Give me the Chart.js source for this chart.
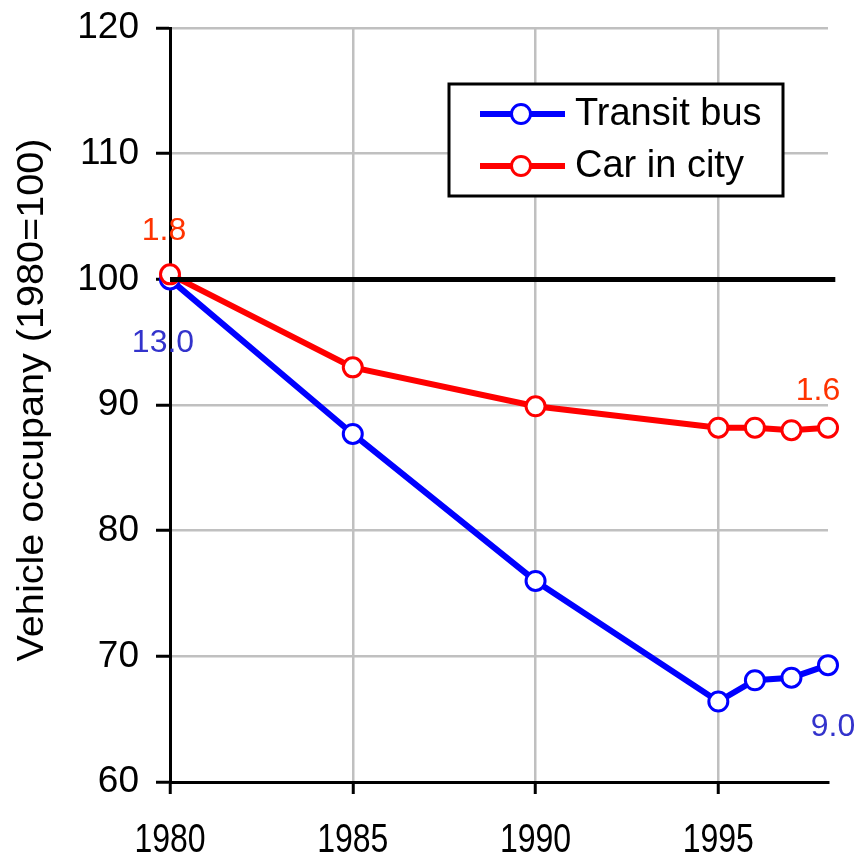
<!DOCTYPE html>
<html>
<head>
<meta charset="utf-8">
<script src="https://cdn.jsdelivr.net/npm/chart.js@4.4.0/dist/chart.umd.min.js"></script>
<style>
  html, body { margin: 0; padding: 0; background: #fff; }
  #wrap { width: 867px; height: 856px; }
</style>
</head>
<body>
<div id="wrap"><canvas id="chart" width="867" height="856"></canvas></div>
<script>
// data
const years = [1980, 1985, 1990, 1995, 1996, 1997, 1998];
const busValues = [100, 87.7, 76.0, 66.4, 68.1, 68.3, 69.3];
const carValues = [100.4, 93.0, 89.9, 88.2, 88.2, 88.0, 88.2];
const baseLine = [100, 100];
const baseYears = [1980, 1998.2];
const xTicks = [1980, 1985, 1990, 1995];
const yTicks = [60, 70, 80, 90, 100, 110, 120];
const seriesNames = ['Transit bus', 'Car in city'];
// occupancy (persons per vehicle) written at start and end of each line
const busEndLabels = ['13.0', '9.0'];
const carEndLabels = ['1.8', '1.6'];

const BLUE = '#0000ff';
const RED = '#ff0000';
const FONT = '"Liberation Sans", Arial, sans-serif';

function toPoints(xs, ys) {
  return xs.map((x, i) => ({ x: x, y: ys[i] }));
}

const extras = {
  id: 'extras',
  afterDraw(chart) {
    const ctx = chart.ctx;
    const xs = chart.scales.x;

    // x tick labels (narrow looking)
    ctx.save();
    ctx.fillStyle = '#000';
    ctx.font = '41px ' + FONT;
    ctx.textAlign = 'center';
    ctx.textBaseline = 'middle';
    xTicks.forEach(v => {
      ctx.save();
      ctx.translate(xs.getPixelForValue(v), 841);
      ctx.scale(0.78, 1);
      ctx.fillText(String(v), 0, 0);
      ctx.restore();
    });
    ctx.restore();

    // y axis title
    ctx.save();
    ctx.fillStyle = '#000';
    ctx.font = '37px ' + FONT;
    ctx.textAlign = 'center';
    ctx.textBaseline = 'middle';
    ctx.translate(33, 400);
    ctx.rotate(-Math.PI / 2);
    ctx.scale(1.07, 1);
    ctx.fillText('Vehicle occupany (1980=100)', 0, 0);
    ctx.restore();

    // end labels
    const busMeta = chart.getDatasetMeta(2).data;
    const carMeta = chart.getDatasetMeta(1).data;
    const bl = busMeta.length - 1, cl = carMeta.length - 1;
    ctx.save();
    ctx.font = '32px ' + FONT;
    ctx.textAlign = 'center';
    ctx.textBaseline = 'alphabetic';
    ctx.fillStyle = '#ff3300';
    ctx.fillText(carEndLabels[0], carMeta[0].x - 6, carMeta[0].y - 34);
    ctx.fillText(carEndLabels[1], carMeta[cl].x - 10, carMeta[cl].y - 28);
    ctx.fillStyle = '#3333cc';
    ctx.fillText(busEndLabels[0], busMeta[0].x - 7, busMeta[0].y + 73);
    ctx.fillText(busEndLabels[1], busMeta[bl].x + 5, busMeta[bl].y + 71);
    ctx.restore();

    // legend box
    ctx.save();
    ctx.fillStyle = '#fff';
    ctx.fillRect(449, 84, 334, 112);
    ctx.strokeStyle = '#000';
    ctx.lineWidth = 3;
    ctx.strokeRect(449, 84, 334, 112);
    const rows = [{ y: 114, c: BLUE }, { y: 166, c: RED }];
    rows.forEach((r, i) => {
      ctx.strokeStyle = r.c;
      ctx.lineWidth = 6;
      ctx.beginPath();
      ctx.moveTo(480, r.y);
      ctx.lineTo(565, r.y);
      ctx.stroke();
      ctx.beginPath();
      ctx.arc(521, r.y, 9.5, 0, Math.PI * 2);
      ctx.fillStyle = '#fff';
      ctx.fill();
      ctx.lineWidth = 3;
      ctx.stroke();
      ctx.fillStyle = '#000';
      ctx.font = '38px ' + FONT;
      ctx.textAlign = 'left';
      ctx.textBaseline = 'middle';
      ctx.fillText(seriesNames[i], 575, r.y + 1);
    });
    ctx.restore();
  }
};

new Chart(document.getElementById('chart'), {
  type: 'line',
  data: {
    datasets: [
      {
        label: 'base',
        data: toPoints(baseYears, baseLine),
        borderColor: '#000',
        borderWidth: 5,
        pointRadius: 0,
        clip: false
      },
      {
        label: seriesNames[1],
        data: toPoints(years, carValues),
        borderColor: RED,
        borderWidth: 6,
        pointRadius: 9.5,
        pointBorderWidth: 3,
        pointBackgroundColor: '#fff',
        pointBorderColor: RED,
        clip: false
      },
      {
        label: seriesNames[0],
        data: toPoints(years, busValues),
        borderColor: BLUE,
        borderWidth: 6,
        pointRadius: 9.5,
        pointBorderWidth: 3,
        pointBackgroundColor: '#fff',
        pointBorderColor: BLUE,
        clip: false
      }
    ]
  },
  options: {
    responsive: false,
    animation: false,
    layout: { padding: { top: 24, right: 39, left: 0, bottom: 0 } },
    plugins: {
      legend: { display: false },
      tooltip: { enabled: false }
    },
    scales: {
      x: {
        type: 'linear',
        min: 1980,
        max: 1998,
        afterBuildTicks: s => { s.ticks = xTicks.map(v => ({ value: v })); },
        afterFit: s => { s.height = 74; },
        ticks: { display: false },
        grid: { color: '#c0c0c0', lineWidth: 2.5, tickColor: '#000', tickLength: 12, tickWidth: 3 },
        border: { color: '#000', width: 3 }
      },
      y: {
        min: 60,
        max: 120,
        afterBuildTicks: s => { s.ticks = yTicks.map(v => ({ value: v })); },
        afterFit: s => { s.width = 170; },
        ticks: {
          color: '#000',
          font: { family: FONT, size: 37, lineHeight: 0.6 },
          padding: 17
        },
        grid: { color: '#c0c0c0', lineWidth: 2.5, tickColor: '#000', tickLength: 14, tickWidth: 3 },
        border: { color: '#000', width: 3 }
      }
    }
  },
  plugins: [extras]
});
</script>
</body>
</html>
